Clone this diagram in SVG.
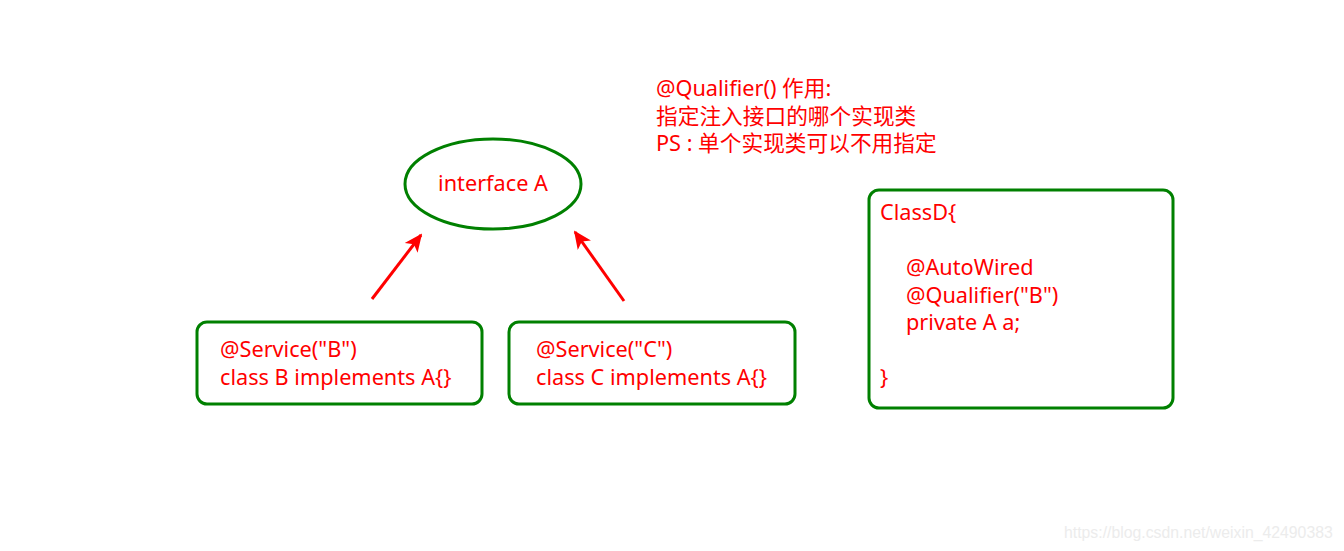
<svg xmlns="http://www.w3.org/2000/svg" width="1344" height="551" viewBox="0 0 1344 551">
<defs>
<style>
.t{font-family:"Noto Sans","Noto Sans CJK SC",sans-serif;font-size:21.7px;fill:#ff0000}
.box{fill:#ffffff;stroke:#008000;stroke-width:3}
.con{stroke:#ff0000;stroke-width:3;fill:none}
.wm{font-family:"Liberation Sans",Arial,sans-serif;font-size:15.8px;fill:#ececec}
</style>
<marker id="ah" viewBox="0 0 10 10" refX="9" refY="5" markerWidth="6" markerHeight="6" orient="auto" markerUnits="strokeWidth">
<path d="M0,0.5 L10,5 L0,9.5 L2.5,5 z" fill="#ff0000"/>
</marker>
</defs>
<rect width="1344" height="551" fill="#ffffff"/>
<g id="note">
<text class="t" x="656" y="96">@Qualifier() 作用:</text>
<text class="t" x="656" y="124">指定注入接口的哪个实现类</text>
<text class="t" x="656" y="151">PS : 单个实现类可以不用指定</text>
</g>
<g id="interfaceA">
<ellipse class="box" cx="493" cy="184" rx="88" ry="45"/>
<text class="t" x="493" y="191" text-anchor="middle">interface A</text>
</g>
<g id="classB">
<rect class="box" x="197" y="322" width="285" height="82" rx="10"/>
<text class="t" x="220" y="357">@Service("B")</text>
<text class="t" x="220" y="385">class B implements A{}</text>
</g>
<g id="classC">
<rect class="box" x="509" y="322" width="286" height="82" rx="10"/>
<text class="t" x="536" y="357">@Service("C")</text>
<text class="t" x="536" y="385">class C implements A{}</text>
</g>
<g id="classD">
<rect class="box" x="869" y="190" width="304" height="218" rx="10"/>
<text class="t" x="880" y="220">ClassD{</text>
<text class="t" x="906" y="275">@AutoWired</text>
<text class="t" x="906" y="303">@Qualifier("B")</text>
<text class="t" x="906" y="330">private A a;</text>
<text class="t" x="880" y="385">}</text>
</g>
<g id="connectors">
<line class="con" x1="372" y1="299" x2="421" y2="235" marker-end="url(#ah)"/>
<line class="con" x1="624" y1="301" x2="575" y2="232" marker-end="url(#ah)"/>
</g>
<text class="wm" x="1064" y="538">https://blog.csdn.net/weixin_42490383</text>
</svg>
